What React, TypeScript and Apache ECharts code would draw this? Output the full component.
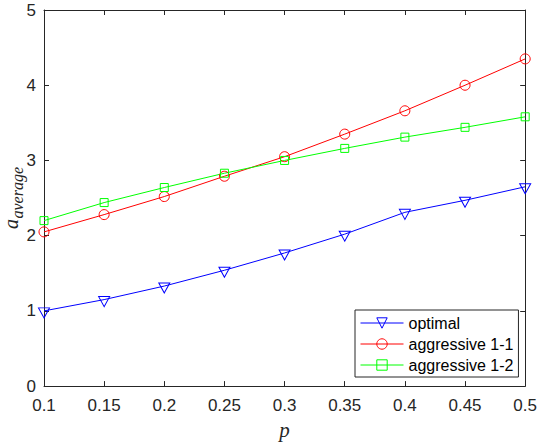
import React, { useEffect, useRef } from "react";
import * as echarts from "echarts";

const pValues = ["0.1", "0.15", "0.2", "0.25", "0.3", "0.35", "0.4", "0.45", "0.5"];
const optimal = [1.0, 1.15, 1.33, 1.54, 1.77, 2.02, 2.31, 2.47, 2.65];
const aggressive11 = [2.05, 2.28, 2.52, 2.79, 3.05, 3.35, 3.66, 4.0, 4.35];
const aggressive12 = [2.2, 2.44, 2.64, 2.83, 3.0, 3.16, 3.31, 3.44, 3.58];
const seriesNames = ["optimal", "aggressive 1-1", "aggressive 1-2"];

const AX = "#262626";
const SANS = '"Liberation Sans", Arial, sans-serif';
const SERIF = '"Liberation Serif", "Times New Roman", serif';

function pairs(vals: number[]) {
  return vals.map((v, i) => [Number(pValues[i]), v]);
}

export default function App() {
  const ref = useRef<HTMLDivElement>(null);
  useEffect(() => {
    if (!ref.current) return;
    const chart = echarts.init(ref.current, undefined, { renderer: "svg" });
    const axisCommon = {
      axisLine: { show: true, onZero: false, lineStyle: { color: AX, width: 1 } },
      axisTick: { show: true, inside: true, length: 5, lineStyle: { color: AX, width: 1 } },
      splitLine: { show: false },
    };
    chart.setOption({
      animation: false,
      backgroundColor: "#fff",
      grid: { left: 44, right: 13, top: 10, bottom: 58 },
      legend: {
        orient: "vertical",
        left: 355,
        top: 310,
        padding: [5, 5, 4, 5],
        itemWidth: 43,
        itemHeight: 13,
        itemGap: 5,
        borderColor: AX,
        borderWidth: 1,
        backgroundColor: "#fff",
        lineStyle: { width: 1 },
        itemStyle: { borderWidth: 1 },
        textStyle: { fontFamily: SANS, fontSize: 16, color: "#000" },
        data: seriesNames,
      },
      xAxis: [
        {
          type: "value",
          min: 0.1,
          max: 0.5,
          interval: 0.05,
          name: "p",
          nameLocation: "middle",
          nameGap: 30,
          nameTextStyle: { fontFamily: SERIF, fontStyle: "italic", fontSize: 21, color: AX },
          axisLabel: {
            margin: 11,
            fontFamily: SANS,
            fontSize: 17,
            color: AX,
            formatter: (v: number) => String(Math.round(v * 100) / 100),
          },
          ...axisCommon,
        },
        {
          type: "value",
          position: "top",
          min: 0.1,
          max: 0.5,
          interval: 0.05,
          axisLabel: { show: false },
          ...axisCommon,
        },
      ],
      yAxis: [
        {
          type: "value",
          min: 0,
          max: 5,
          interval: 1,
          axisLabel: { margin: 8, fontFamily: SANS, fontSize: 17, color: AX },
          ...axisCommon,
        },
        {
          type: "value",
          position: "right",
          min: 0,
          max: 5,
          interval: 1,
          axisLabel: { show: false },
          ...axisCommon,
        },
      ],
      graphic: [
        {
          type: "group",
          x: 17.5,
          y: 229,
          rotation: Math.PI / 2,
          children: [
            {
              type: "text",
              x: 0,
              y: -6.7,
              style: {
                text: "a",
                font: `italic 20px ${SERIF}`,
                fill: AX,
                verticalAlign: "middle",
                align: "left",
              },
            },
            {
              type: "text",
              x: 10.5,
              y: -0.5,
              style: {
                text: "average",
                font: `italic 16px ${SERIF}`,
                fill: AX,
                verticalAlign: "middle",
                align: "left",
              },
            },
          ],
        },
      ],
      series: [
        {
          name: seriesNames[0],
          type: "line",
          data: pairs(optimal),
          symbol: "triangle",
          symbolSize: [11, 10],
          symbolRotate: 180,
          symbolOffset: [0, 2],
          color: "#0000ff",
          lineStyle: { color: "#0000ff", width: 1 },
          itemStyle: { color: "rgba(255,255,255,0)", borderColor: "#0000ff", borderWidth: 1 },
          z: 3,
        },
        {
          name: seriesNames[1],
          type: "line",
          data: pairs(aggressive11),
          symbol: "circle",
          symbolSize: 10,
          color: "#ff0000",
          lineStyle: { color: "#ff0000", width: 1 },
          itemStyle: { color: "rgba(255,255,255,0)", borderColor: "#ff0000", borderWidth: 1 },
          z: 2,
        },
        {
          name: seriesNames[2],
          type: "line",
          data: pairs(aggressive12),
          symbol: "rect",
          symbolSize: 8,
          color: "#00ff00",
          lineStyle: { color: "#00ff00", width: 1 },
          itemStyle: { color: "rgba(255,255,255,0)", borderColor: "#00ff00", borderWidth: 1 },
          z: 2,
        },
      ],
    });
    return () => chart.dispose();
  }, []);
  return (
    <div
      ref={ref}
      style={{ width: 540, height: 445, position: "fixed", left: 0, top: 0 }}
    />
  );
}
